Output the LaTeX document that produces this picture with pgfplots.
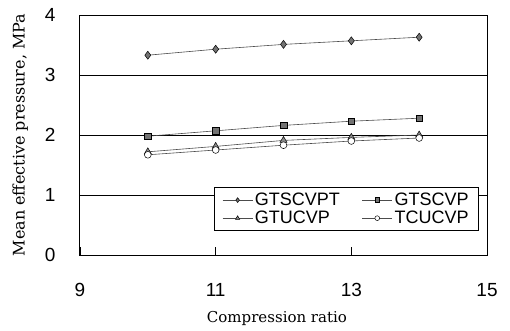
\documentclass[border=0pt]{standalone}
\usepackage{pgfplots}
\pgfplotsset{compat=1.18}
\usepackage{fontspec}
\setmainfont{DejaVu Serif}
\newfontfamily\tickfont{Liberation Sans}
\begin{document}
\begin{tikzpicture}[x=1pt,y=1pt]
\useasboundingbox (-80,-75) rectangle (430,255);
\begin{axis}[
  scale only axis, width=407pt, height=240pt,
  xmin=9, xmax=15, ymin=0, ymax=4,
  xtick={9,11,13,15}, ytick={0,1,2,3,4},
  ymajorgrids, grid style={black, line width=0.6pt},
  axis line style={black, line width=1pt},
  tick align=inside, xtick pos=bottom, ytick pos=left,
  major tick length=8pt,
  ytick style={draw=none},
  xtick style={black, line width=0.6pt},
  /pgf/number format/assume math mode=true,
  ticklabel style={font=\tickfont\fontsize{19}{22}\selectfont},
  yticklabel style={xshift=-21pt},
  xticklabel style={yshift=-25pt},
  xlabel={Compression ratio},
  ylabel={Mean effective pressure, MPa},
  xlabel style={font=\fontsize{15}{16}\selectfont, at={(axis description cs:0.484,-0.2625)}, anchor=center},
  ylabel style={font=\fontsize{16}{18}\selectfont, at={(axis description cs:-0.147,0.5)}, anchor=center},
  legend columns=2,
  legend style={at={(0.98,0.1)}, anchor=south east, draw=black, line width=0.6pt,
    font=\tickfont\fontsize{18}{20}\selectfont, inner xsep=8pt, inner ysep=3.5pt,
    /tikz/every even column/.append style={column sep=20pt}, row sep=0pt},
  legend cell align=left,
  legend image code/.code={\draw[mark repeat=2,mark phase=2,#1] plot coordinates {(0pt,0pt) (15pt,0pt) (30pt,0pt)};},
  legend image post style={mark size=2.4pt},
]
\addplot[line width=0.6pt, black!70, mark=diamond*, mark size=4pt, mark options={fill=black!55, draw=black, line width=0.5pt}] coordinates {(10,3.33) (11,3.43) (12,3.51) (13,3.57) (14,3.63)};
\addlegendentry{GTSCVPT}
\addplot[line width=0.6pt, black!70, mark=square*, mark size=3.3pt, mark options={fill=black!55, draw=black, line width=0.5pt}] coordinates {(10,1.98) (11,2.07) (12,2.16) (13,2.23) (14,2.28)};
\addlegendentry{GTSCVP}
\addplot[line width=0.6pt, black!70, mark=triangle*, mark size=4pt, mark options={fill=black!45, draw=black, line width=0.5pt}] coordinates {(10,1.72) (11,1.81) (12,1.91) (13,1.96) (14,2.00)};
\addlegendentry{GTUCVP}
\addplot[line width=0.6pt, black!70, mark=*, mark size=3.4pt, mark options={fill=white, draw=black, line width=0.5pt}] coordinates {(10,1.67) (11,1.75) (12,1.83) (13,1.90) (14,1.95)};
\addlegendentry{TCUCVP}
\end{axis}
\end{tikzpicture}
\end{document}
